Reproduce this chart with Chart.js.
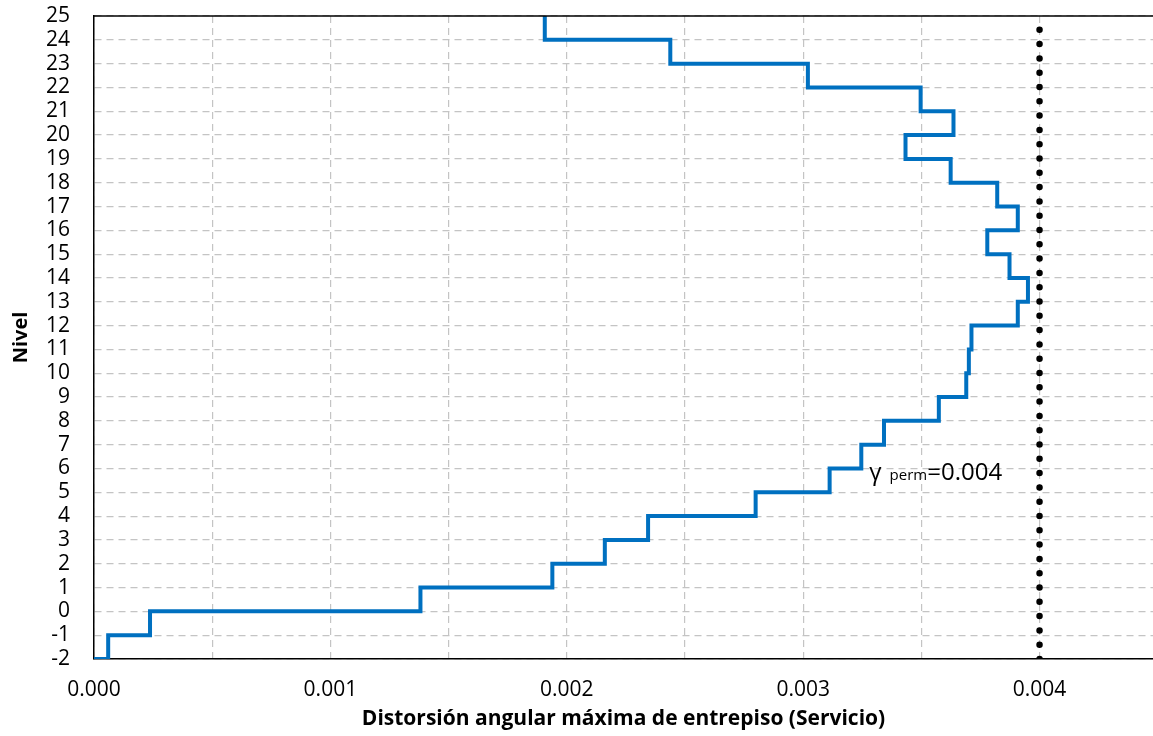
<!DOCTYPE html>
<html>
<head>
<meta charset="utf-8">
<script src="https://cdn.jsdelivr.net/npm/chart.js@4"></script>
<style>
  html, body { margin: 0; padding: 0; background: #fff; }
  canvas { display: block; }
</style>
</head>
<body>
<canvas id="drift-chart" width="1153" height="736"></canvas>
<script>
// Story base levels (-2 .. 24); each story spans level -> level + 1
const storyLevels = [-2, -1, 0, 1, 2, 3, 4, 5, 6, 7, 8, 9, 10, 11, 12, 13, 14, 15, 16, 17, 18, 19, 20, 21, 22, 23, 24];
// Max interstory drift (service) per story
const storyDrift = [
    0.00006, 0.000237, 0.001381, 0.001939, 0.002161, 0.002344, 0.002799,
    0.003112, 0.003246, 0.003342, 0.003574, 0.00369, 0.003701, 0.003712,
    0.003908, 0.003951, 0.003873, 0.003779, 0.003908, 0.003821, 0.003624,
    0.003433, 0.003636, 0.003497, 0.00302, 0.002438, 0.001907
];
const driftLimit = 0.004;
const levelMin = -2;
const levelMax = 25;
const xMax = 0.00448;

// step profile: start on the axis at the lowest level, then one vertical run per story
function buildStepPoints() {
    const pts = [{ x: 0, y: storyLevels[0] }];
    storyLevels.forEach((lvl, i) => {
        pts.push({ x: storyDrift[i], y: lvl });
        pts.push({ x: storyDrift[i], y: lvl + 1 });
    });
    return pts;
}

const frameAndLabel = {
    id: "frameAndLabel",
    afterDraw(chart) {
        const { ctx, chartArea } = chart;
        const xs = chart.scales.x, ys = chart.scales.y;
        ctx.save();
        // top edge of the plot frame
        ctx.strokeStyle = "#000";
        ctx.lineWidth = 1.5;
        ctx.beginPath();
        ctx.moveTo(chartArea.left, chartArea.top);
        ctx.lineTo(chartArea.right, chartArea.top);
        ctx.stroke();

        // "γ perm=0.004" annotation
        let x = xs.getPixelForValue(0.00328);
        const y = ys.getPixelForValue(5.5);
        ctx.fillStyle = "#000";
        ctx.textBaseline = "alphabetic";
        ctx.textAlign = "left";
        ctx.font = "24px 'Open Sans'";
        ctx.fillText("γ", x, y);
        x += ctx.measureText("γ").width + 8;
        ctx.font = "15px 'Open Sans'";
        ctx.fillText("perm", x, y);
        x += ctx.measureText("perm").width;
        ctx.font = "24px 'Open Sans'";
        ctx.fillText("=" + driftLimit.toFixed(3), x, y);
        ctx.restore();
    }
};

Chart.defaults.font.family = "'Open Sans'";
Chart.defaults.color = "#000";

new Chart(document.getElementById("drift-chart"), {
    type: "scatter",
    data: {
        datasets: [
            {
                label: "Servicio",
                data: buildStepPoints(),
                showLine: true,
                borderColor: "#0070c0",
                borderWidth: 4,
                borderJoinStyle: "miter",
                borderCapStyle: "butt",
                pointRadius: 0,
                tension: 0,
            },
            {
                label: "Límite",
                data: [{ x: driftLimit, y: levelMin }, { x: driftLimit, y: levelMax }],
                showLine: true,
                borderColor: "#000",
                borderWidth: 6.5,
                borderDash: [0, 14.3],
                borderCapStyle: "round",
                pointRadius: 0,
            },
        ],
    },
    options: {
        responsive: false,
        animation: false,
        layout: { padding: { top: 16, right: 0, bottom: 0, left: 0 } },
        plugins: {
            legend: { display: false },
            tooltip: { enabled: false },
        },
        scales: {
            x: {
                type: "linear",
                min: 0,
                max: xMax,
                afterFit: s => { s.height = 77; },
                ticks: {
                    stepSize: 0.0005,
                    includeBounds: false,
                    autoSkip: false,
                    padding: 18,
                    font: { size: 21 },
                    maxRotation: 0,
                    callback: v => Math.abs(v / 0.001 - Math.round(v / 0.001)) < 1e-6 ? v.toFixed(3) : "",
                },
                grid: { color: "#c4c4c4", lineWidth: 1.2, drawTicks: false },
                border: { display: true, color: "#000", width: 1.5, dash: [7, 5] },
                title: {
                    display: true,
                    text: "Distorsión angular máxima de entrepiso (Servicio)",
                    font: { size: 21, weight: "bold" },
                    padding: { top: 0, bottom: 4 },
                },
            },
            y: {
                type: "linear",
                min: levelMin,
                max: levelMax,
                afterFit: s => { s.width = 94; },
                ticks: {
                    stepSize: 1,
                    autoSkip: false,
                    padding: 0,
                    font: { size: 21, lineHeight: 1.05 },
                },
                grid: {
                    color: "#c4c4c4",
                    lineWidth: 1.2,
                    drawTicks: true,
                    tickLength: 24,
                    tickColor: "rgba(0,0,0,0)",
                },
                border: { display: true, color: "#000", width: 1.5, dash: [7, 5] },
                title: {
                    display: true,
                    text: "Nivel",
                    font: { size: 20, weight: "bold" },
                    padding: { top: 9, bottom: 0 },
                },
            },
        },
    },
    plugins: [frameAndLabel],
});
</script>
</body>
</html>
